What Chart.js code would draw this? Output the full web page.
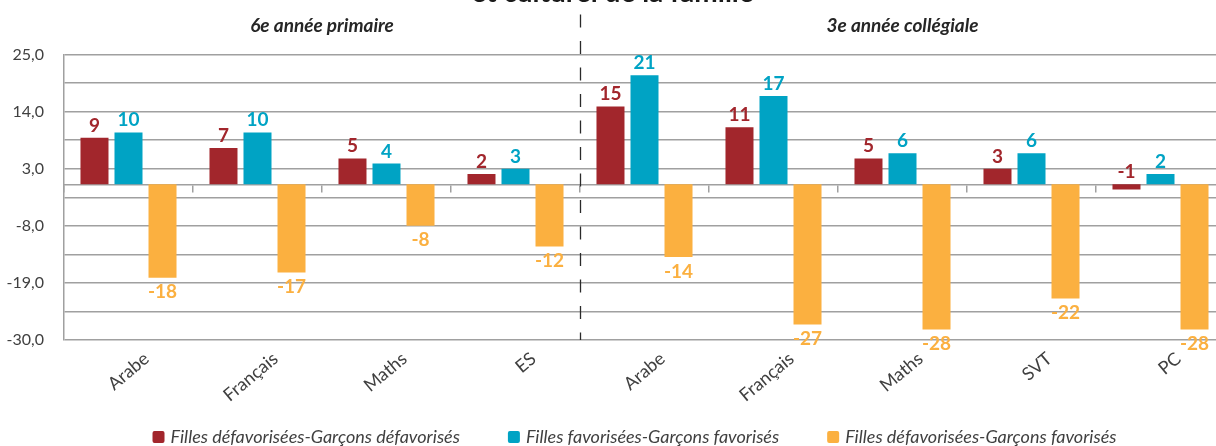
<!DOCTYPE html>
<html><head><meta charset="utf-8">
<script src="https://cdn.jsdelivr.net/npm/chart.js@4.4.1/dist/chart.umd.min.js"></script>
<style>
html,body{margin:0;padding:0;background:#fff;overflow:hidden;}
#wrap{position:relative;width:1216px;height:446px;overflow:hidden;background:#fff;}
#box{position:absolute;left:0;top:-30px;width:1268px;height:476px;}
</style></head><body>
<div id="wrap"><div id="box"><canvas id="c"></canvas></div></div>
<script>
// ---- data ----
const titleText = 'et culturel de la famille';
const categories = ['Arabe', 'Français', 'Maths', 'ES', 'Arabe', 'Français', 'Maths', 'SVT', 'PC'];
const groupLabels = ['6e année primaire', '3e année collégiale'];
const groupFirst = [0, 4];
const groupLast = [3, 8];
const seriesNames = [
  'Filles défavorisées-Garçons défavorisés',
  'Filles favorisées-Garçons favorisés',
  'Filles défavorisées-Garçons favorisés'
];
const defDef = [9, 7, 5, 2, 15, 11, 5, 3, -1];
const favFav = [10, 10, 4, 3, 21, 17, 6, 6, 2];
const defFav = [-18, -17, -8, -12, -14, -27, -28, -22, -28];
const yMin = -30, yMax = 25, yStep = 5.5, yLabelStep = 11;

// ---- style ----
const RED = '#A2262C', TEAL = '#00A3C4', ORANGE = '#FBB040';
const GRID = '#a0a0a0', TXT = '#404040';
const FAM = 'Lato, "Open Sans", sans-serif';
Chart.defaults.font.family = FAM;
Chart.defaults.color = TXT;

const valueLabels = {
  id: 'valueLabels',
  afterDatasetsDraw(chart) {
    const ctx = chart.ctx;
    ctx.save();
    ctx.font = 'bold 19px ' + FAM;
    ctx.textAlign = 'center';
    chart.data.datasets.forEach((ds, di) => {
      const meta = chart.getDatasetMeta(di);
      meta.data.forEach((el, i) => {
        const v = ds.data[i];
        ctx.fillStyle = ds.backgroundColor;
        if (v < 0 && ds.negLabelBelow) {
          ctx.textBaseline = 'top';
          ctx.fillText(String(v), el.x, Math.max(el.y, el.base) + 5);
        } else {
          ctx.textBaseline = 'alphabetic';
          ctx.fillText(String(v), el.x, Math.min(el.y, el.base) - 6);
        }
      });
    });
    ctx.restore();
  }
};

const decorations = {
  id: 'decorations',
  beforeDatasetsDraw(chart) {
    const ctx = chart.ctx, x = chart.scales.x, area = chart.chartArea;
    const px = Math.round(x.getPixelForValue(groupFirst[1] - 0.5)) + 0.5;
    ctx.save();
    ctx.strokeStyle = '#2a2a2a';
    ctx.lineWidth = 1.3;
    ctx.setLineDash([13, 13.5]);
    ctx.beginPath();
    ctx.moveTo(px, area.top - 40);
    ctx.lineTo(px, area.bottom);
    ctx.stroke();
    ctx.restore();
  },
  afterDraw(chart) {
    const ctx = chart.ctx, x = chart.scales.x, area = chart.chartArea;
    ctx.save();
    // group headings
    ctx.font = 'italic bold 19px ' + FAM;
    ctx.fillStyle = '#262626';
    ctx.textAlign = 'center';
    ctx.textBaseline = 'middle';
    groupLabels.forEach((g, k) => {
      const cx = x.getPixelForValue((groupFirst[k] + groupLast[k]) / 2);
      ctx.fillText(g, cx, area.top - 29);
    });
    // legend
    ctx.font = 'italic 18px ' + FAM;
    ctx.textAlign = 'left';
    const box = 12, gapText = 6, gapItem = 48;
    const items = chart.data.datasets.map(ds => ({
      text: ds.label, color: ds.backgroundColor,
      w: box + gapText + ctx.measureText(ds.label).width
    }));
    const total = items.reduce((s, it) => s + it.w, 0) + gapItem * (items.length - 1);
    let lx = (area.left + area.right) / 2 - 10 - total / 2;
    const ly = chart.height - 9;
    items.forEach(it => {
      ctx.fillStyle = it.color;
      ctx.beginPath();
      ctx.roundRect(lx, ly - box / 2, box, box, 2);
      ctx.fill();
      ctx.fillStyle = TXT;
      ctx.fillText(it.text, lx + box + gapText, ly);
      lx += it.w + gapItem;
    });
    ctx.restore();
  }
};

new Chart(document.getElementById('c'), {
  type: 'bar',
  data: {
    labels: categories,
    datasets: [
      { label: seriesNames[0], data: defDef, backgroundColor: RED, borderWidth: 0 },
      { label: seriesNames[1], data: favFav, backgroundColor: TEAL, borderWidth: 0 },
      { label: seriesNames[2], data: defFav, backgroundColor: ORANGE, borderWidth: 0, negLabelBelow: true }
    ]
  },
  options: {
    responsive: true,
    maintainAspectRatio: false,
    animation: false,
    devicePixelRatio: 1,
    categoryPercentage: 0.791,
    barPercentage: 0.8235,
    layout: { padding: { top: 0, left: 0, right: 43, bottom: 26 } },
    plugins: {
      title: {
        display: true, text: titleText, color: '#1a1a1a',
        font: { size: 28, weight: 'bold' },
        padding: { top: 6, bottom: 45 }
      },
      legend: { display: false },
      tooltip: { enabled: false }
    },
    scales: {
      x: {
        grid: { display: false },
        border: { display: false },
        ticks: { autoSkip: false, maxRotation: 40, minRotation: 40, color: TXT, font: { size: 18 }, padding: 0, labelOffset: 18 },
        afterFit(s) { s.height = 80; }
      },
      zero: {
        type: 'category', axis: 'x', position: { y: 0 },
        grid: { offset: true, drawOnChartArea: false, drawTicks: true, tickLength: 7, color: GRID, lineWidth: 1.5 },
        border: { display: true, color: GRID, width: 1.5 },
        ticks: { display: false }
      },
      y: {
        min: yMin, max: yMax,
        ticks: {
          stepSize: yStep, autoSkip: false, padding: 20, color: TXT, font: { size: 16 },
          callback(v) {
            const r = (v - yMin) / yLabelStep;
            return Math.abs(r - Math.round(r)) < 1e-6 ? v.toFixed(1).replace('.', ',') : '';
          }
        },
        grid: { color: GRID, lineWidth: 1.5, drawTicks: false },
        border: { display: true, color: GRID, width: 1.5 },
        afterFit(s) { s.width = 64; }
      }
    }
  },
  plugins: [decorations, valueLabels]
});
</script>
</body></html>
